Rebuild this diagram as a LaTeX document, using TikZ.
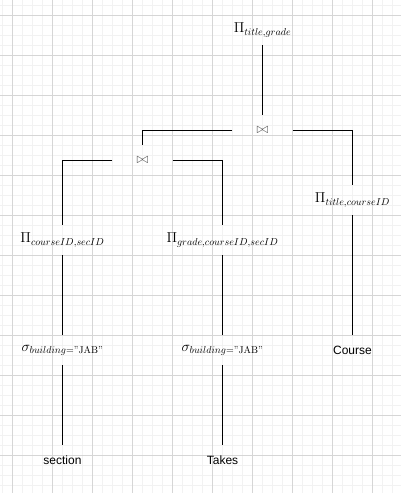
\documentclass[tikz,border=0pt]{standalone}
\usepackage{amsmath}
\usepackage{fontspec}
\newfontfamily\helv{Liberation Sans}
\DeclareMathSizes{14}{14}{9.9}{7}
\definecolor{gridminor}{HTML}{F2F2F2}
\definecolor{gridmajor}{HTML}{D6D6D6}
\definecolor{joincol}{HTML}{555555}
\begin{document}
\begin{tikzpicture}[x=1pt,y=-1pt,
  opbox/.style={inner sep=0pt,minimum width=60pt,minimum height=30pt,font=\fontsize{14}{16}\selectfont},
  relbox/.style={inner sep=0pt,minimum width=60pt,minimum height=30pt,font=\fontsize{12}{14}\selectfont\helv},
  joinbox/.style={opbox,text=joincol},
  edge/.style={draw=black,line width=1pt},
  minorgrid/.style={draw=gridminor,line width=0.6pt},
  majorgrid/.style={draw=gridmajor,line width=0.6pt}]
\useasboundingbox (0,0) rectangle (401,495);
\fill[white] (0,0) rectangle (401,495);
% grid
\foreach \x in {2.5,12.5,...,400} \draw[minorgrid] (\x,0) -- (\x,493);
\foreach \y in {5,15,...,492} \draw[minorgrid] (0,\y) -- (401,\y);
\foreach \x in {12.5,52.5,...,400} \draw[majorgrid] (\x,0) -- (\x,493);
\foreach \y in {15,55,...,492} \draw[majorgrid] (0,\y) -- (401,\y);
% nodes
\node[opbox] (top) at (262.5,30) {$\Pi_{title,grade}$};
\node[joinbox] (j1) at (262.5,130) {$\bowtie$};
\node[joinbox] (j2) at (142.5,160) {$\bowtie$};
\node[opbox] (pt) at (352.5,200) {$\Pi_{title,courseID}$};
\node[relbox] (course) at (352.5,350) {Course};
\node[opbox] (pc) at (62.5,240) {$\Pi_{courseID,secID}$};
\node[opbox] (pg) at (222.5,240) {$\Pi_{grade,courseID,secID}$};
\node[opbox] (s1) at (62.5,350) {$\sigma_{building=\text{"JAB"}}$};
\node[opbox] (s2) at (222.5,350) {$\sigma_{building=\text{"JAB"}}$};
\node[relbox] (section) at (62.5,460) {section};
\node[relbox] (takes) at (222.5,460) {Takes};
% edges
\draw[edge] (top.south) -- (j1.north);
\draw[edge] (j1.west) -| (j2.north);
\draw[edge] (j1.east) -| (pt.north);
\draw[edge] (j2.west) -| (pc.north);
\draw[edge] (j2.east) -| (pg.north);
\draw[edge] (pt.south) -- (course.north);
\draw[edge] (pc.south) -- (s1.north);
\draw[edge] (pg.south) -- (s2.north);
\draw[edge] (s1.south) -- (section.north);
\draw[edge] (s2.south) -- (takes.north);
\end{tikzpicture}
\end{document}
